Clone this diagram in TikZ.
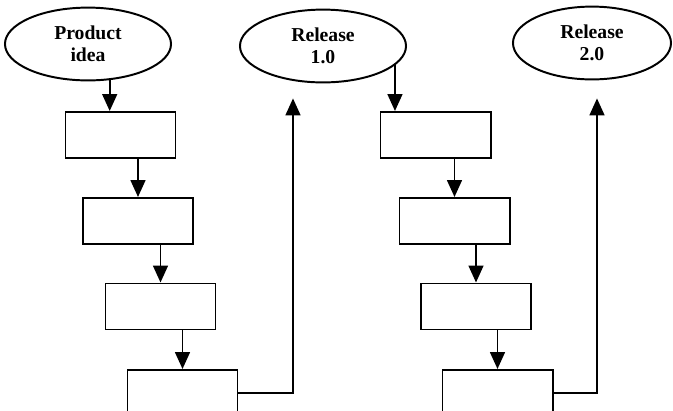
\documentclass[tikz,border=0pt]{standalone}
\usepackage{fontspec}
\setmainfont{Liberation Serif}
\usepackage{tikz}
\usetikzlibrary{positioning,arrows.meta,calc,shapes.geometric}

\begin{document}
\begin{tikzpicture}[x=0.025cm,y=-0.025cm,line width=1.4pt,
  font=\fontsize{14}{15.6}\selectfont\bfseries,
  goal/.style={draw,ellipse,inner sep=0pt,minimum width=4.15cm,minimum height=1.82cm,align=center},
  stage/.style={draw,rectangle,minimum width=2.75cm,minimum height=1.15cm},
  arr/.style={-{Triangle[length=12pt,width=10.5pt]}}]
\useasboundingbox (0,0) rectangle (673,410);
\clip (0,0) rectangle (673,410);
% ellipses
\node[goal] (idea) at (88,44) {Product\\idea};
\node[goal] (rel1) at (323,46) {Release\\1.0};
\node[goal,minimum width=3.95cm] (rel2) at (592,43) {Release\\2.0};
% process boxes, two rounds
\foreach \n/\x/\y in {a1/120.5/135,a2/138/221,a3/160.5/306.5,a4/182.5/393,
                      b1/435.5/135,b2/454.5/221,b3/476/306.5,b4/497.5/393}
  \node[stage] (\n) at (\x,\y) {};
% flow
\draw[arr] (idea.-59) -- (idea.-59 |- a1.north);
\draw[arr] (a2.north |- a1.south) -- (a2.north);
\draw[arr] (a3.north |- a2.south) -- (a3.north);
\draw[arr] (a4.north |- a3.south) -- (a4.north);
\draw[arr] (rel1.-15) -- (rel1.-15 |- b1.north);
\draw[arr] (b2.north |- b1.south) -- (b2.north);
\draw[arr] (b3.north |- b2.south) -- (b3.north);
\draw[arr] (b4.north |- b3.south) -- (b4.north);
% back up to the releases
\coordinate (up1) at ($(rel1.south)+(-30,15)$);
\coordinate (up2) at ($(rel2.south)+(5,18)$);
\draw[arr] (a4.east) -| (up1);
\draw[arr] (b4.east) -| (up2);
\end{tikzpicture}
\end{document}
